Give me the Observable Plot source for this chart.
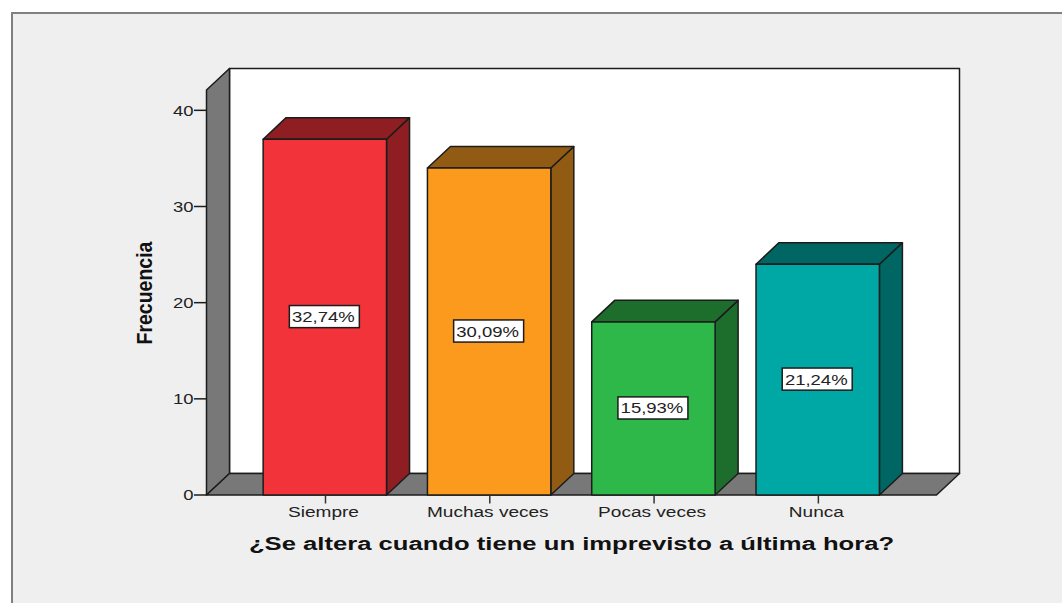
<!DOCTYPE html>
<html>
<head>
<meta charset="utf-8">
<script src="https://cdn.jsdelivr.net/npm/d3@7"></script>
<script src="https://cdn.jsdelivr.net/npm/@observablehq/plot@0.6"></script>
<style>
html,body{margin:0;padding:0;background:#fff;overflow:hidden}
#panel{position:absolute;left:11px;top:12px;width:1051px;height:591px;background:#efefef;border-left:2px solid #808080;border-top:2px solid #808080;box-sizing:border-box}
#chart{position:absolute;left:0;top:0}
svg{background:transparent!important;display:block}
</style>
</head>
<body>
<div id="panel"></div>
<div id="chart"></div>
<script>
const categories = ["Siempre", "Muchas veces", "Pocas veces", "Nunca"];
const counts = [37, 34, 18, 24];
const percentLabels = ["32,74%", "30,09%", "15,93%", "21,24%"];
const frontColors = ["#f2333a", "#fb9a1d", "#2fb84a", "#00a8a5"];
const sideColors = ["#8e1e22", "#915b13", "#1d6e2c", "#006663"];
const yTicks = [0, 10, 20, 30, 40];
const xTicks = [0, 1, 2, 3];
const xTitle = "¿Se altera cuando tiene un imprevisto a última hora?";
const yTitle = "Frecuencia";

// Extent of the pseudo-3D box, in data units
const xMin = -0.7243, xMax = 3.859, yMax = 44.35;
const depthX = 0.14, depthY = 2.24, halfBar = 0.3755, barShift = -0.004;
const boxHalfX = 0.213, boxHalfY = 1.15;
const ink = "#1c1c1c", wall = "#787878";

const face = (pts, fill) => Plot.line(pts, {
  x: d => d[0], y: d => d[1], curve: "linear-closed",
  fill, stroke: ink, strokeWidth: 1.5, strokeLinejoin: "round"
});

const backWall = [[xMin + depthX, depthY], [xMax, depthY], [xMax, yMax], [xMin + depthX, yMax]];
const leftWall = [[xMin, 0], [xMin + depthX, depthY], [xMin + depthX, yMax], [xMin, yMax - depthY]];
const floor = [[xMin, 0], [xMax - depthX, 0], [xMax, depthY], [xMin + depthX, depthY]];

const barMarks = counts.flatMap((v, i) => {
  const a = i + barShift - halfBar, b = i + barShift + halfBar;
  return [
    face([[b, 0], [b + depthX, depthY], [b + depthX, v + depthY], [b, v]], sideColors[i]),
    face([[a, v], [a + depthX, v + depthY], [b + depthX, v + depthY], [b, v]], sideColors[i]),
    face([[a, 0], [b, 0], [b, v], [a, v]], frontColors[i])
  ];
});

const labelRows = counts.map((v, i) => ({i: i + barShift, v, label: percentLabels[i]}));

const plot = Plot.plot({
  width: 1062, height: 603,
  marginLeft: 206, marginRight: 103, marginTop: 68, marginBottom: 108.5,
  x: {domain: [xMin, xMax]},
  y: {domain: [0, yMax]},
  style: {background: "transparent", fontFamily: "'Liberation Sans', Arial, sans-serif", fontSize: "14px", color: "#222"},
  marks: [
    face(backWall, "#fff"),
    face(leftWall, wall),
    face(floor, wall),
    ...barMarks,
    Plot.rect(labelRows, {
      x1: d => d.i - boxHalfX, x2: d => d.i + boxHalfX,
      y1: d => d.v / 2 - boxHalfY, y2: d => d.v / 2 + boxHalfY,
      fill: "#fff", stroke: ink, strokeWidth: 1.5
    }),
    Plot.text(labelRows, {
      x: "i", y: d => d.v / 2, text: "label", dx: -1.5, dy: 0.5,
      fontSize: 14, fill: "#222", className: "wide"
    }),
    Plot.axisY({ticks: yTicks, label: null, tickSize: 12, text: null, stroke: ink, strokeWidth: 1.5}),
    Plot.axisY({
      ticks: yTicks, label: null, tickSize: 0, tickPadding: 13, dy: 1,
      fontSize: 14, fill: "#222", className: "wide"
    }),
    Plot.axisX({ticks: xTicks, label: null, tickSize: 9, text: null, stroke: "#333", strokeWidth: 1.5}),
    Plot.axisX({
      ticks: xTicks, tickFormat: i => categories[i], label: null, dx: -2,
      tickSize: 0, tickPadding: 12, fontSize: 14, fill: "#222", className: "widex"
    }),
    Plot.text([xTitle], {
      x: (xMin + xMax - depthX) / 2, y: 0, dy: 49, text: d => d,
      fontSize: 18, fontWeight: "bold", fill: "#111", className: "widetitle"
    }),
    Plot.text([yTitle], {
      x: xMin, y: 21, dx: -62, text: d => d, rotate: -90,
      fontSize: 22, fontWeight: "bold", fill: "#111", className: "narrow"
    })
  ]
});
document.getElementById("chart").append(plot);

// The reference text is horizontally stretched
const stretch = (sel, k) => plot.querySelectorAll(sel).forEach(t => {
  t.setAttribute("textLength", t.getComputedTextLength() * k);
  t.setAttribute("lengthAdjust", "spacingAndGlyphs");
});
stretch(".wide text, text.wide", 1.32);
stretch(".widex text, text.widex", 1.36);
stretch(".widetitle text, text.widetitle", 1.424);
stretch(".narrow text, text.narrow", 0.885);
</script>
</body>
</html>
